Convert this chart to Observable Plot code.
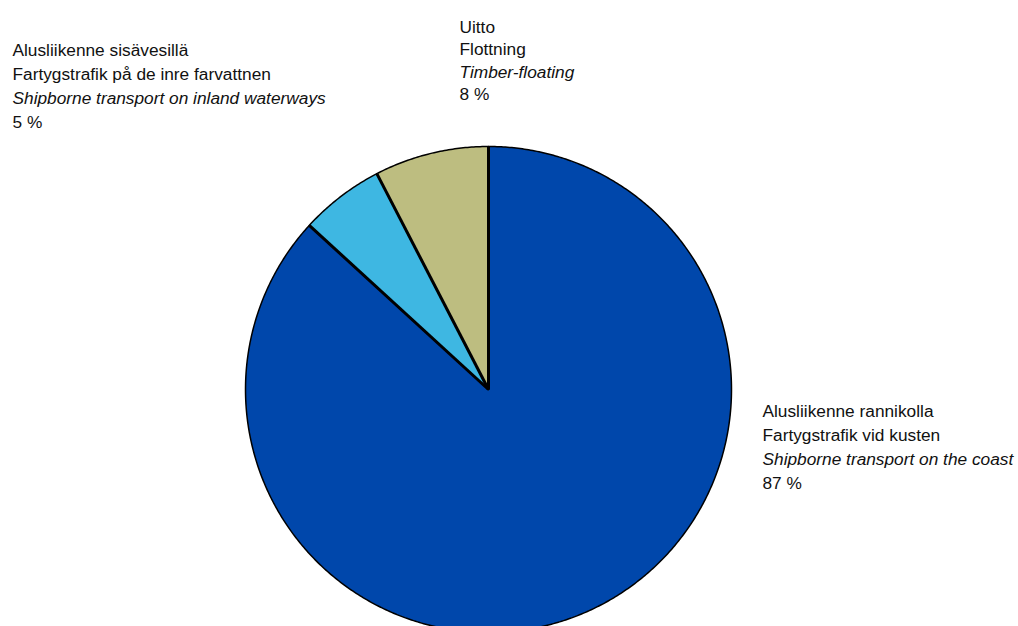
<!DOCTYPE html>
<html>
<head>
<meta charset="utf-8">
<script src="https://cdn.jsdelivr.net/npm/d3@7"></script>
<script src="https://cdn.jsdelivr.net/npm/@observablehq/plot@0.6"></script>
<style>
  html, body { margin: 0; padding: 0; background: #fff; overflow: hidden; }
  #chart svg { overflow: hidden; display: block; }
</style>
</head>
<body>
<div id="chart"></div>
<script>
// ---- data (clockwise from 12 o'clock) ----
const categories = ["Alusliikenne rannikolla", "Alusliikenne sisävesillä", "Uitto"];
const swedishNames = ["Fartygstrafik vid kusten", "Fartygstrafik på de inre farvattnen", "Flottning"];
const englishNames = ["Shipborne transport on the coast", "Shipborne transport on inland waterways", "Timber-floating"];
const shares = [86.8, 5.6, 7.6];
const pctLabels = ["87 %", "5 %", "8 %"];
const colors = ["#0047AB", "#3EB7E2", "#BDBD80"];

// ---- layout ----
const W = 1018, H = 626;
const CX = 488, CY = 389, R = 243;
const labelLayout = [
  {x: 762, top: 404, pitch: 24.2},
  {x: 12, top: 43, pitch: 24.2},
  {x: 459, top: 20, pitch: 22.5}
];
const toX = px => (px - CX) / R;
const toY = py => (CY - py) / R;

// ---- slice geometry from values ----
const total = d3.sum(shares);
const slicePts = [];
const bounds = [];
let acc = 0;
categories.forEach((cat, i) => {
  const a0 = acc / total, a1 = (acc + shares[i]) / total;
  acc += shares[i];
  bounds.push(a0);
  const n = Math.max(4, Math.ceil((a1 - a0) * 720));
  slicePts.push({cat, x: 0, y: 0});
  for (let k = 0; k <= n; k++) {
    const t = 2 * Math.PI * (a0 + (a1 - a0) * k / n);
    slicePts.push({cat, x: Math.sin(t), y: Math.cos(t)});
  }
  slicePts.push({cat, x: 0, y: 0});
});
const radials = bounds.map(b => ({x1: 0, y1: 0, x2: Math.sin(2 * Math.PI * b), y2: Math.cos(2 * Math.PI * b)}));

// ---- labels ----
const lineSets = [categories, swedishNames, englishNames, pctLabels];
const textRows = [];
categories.forEach((cat, i) => {
  const L = labelLayout[i];
  lineSets.forEach((set, j) => {
    textRows.push({line: j, text: set[i], x: toX(L.x), y: toY(L.top + j * L.pitch)});
  });
});

const chart = Plot.plot({
  width: W,
  height: H,
  margin: 0,
  style: {fontFamily: "'Liberation Sans', Arial, sans-serif", background: "#fff"},
  x: {domain: [toX(0), toX(W)], axis: null},
  y: {domain: [toY(H), toY(0)], axis: null},
  color: {domain: categories, range: colors},
  marks: [
    Plot.line(slicePts, {x: "x", y: "y", z: "cat", fill: "cat", stroke: "#000", strokeWidth: 1.5, curve: "linear", strokeLinejoin: "round"}),
    Plot.link(radials, {x1: "x1", y1: "y1", x2: "x2", y2: "y2", stroke: "#000", strokeWidth: 3}),
    Plot.text(textRows.filter(d => d.line !== 2), {x: "x", y: "y", text: "text", textAnchor: "start", lineAnchor: "top", fontSize: 17.3, fill: "#111"}),
    Plot.text(textRows.filter(d => d.line === 2), {x: "x", y: "y", text: "text", textAnchor: "start", lineAnchor: "top", fontSize: 17.3, fontStyle: "italic", fill: "#111"})
  ]
});
document.getElementById("chart").appendChild(chart);
</script>
</body>
</html>
